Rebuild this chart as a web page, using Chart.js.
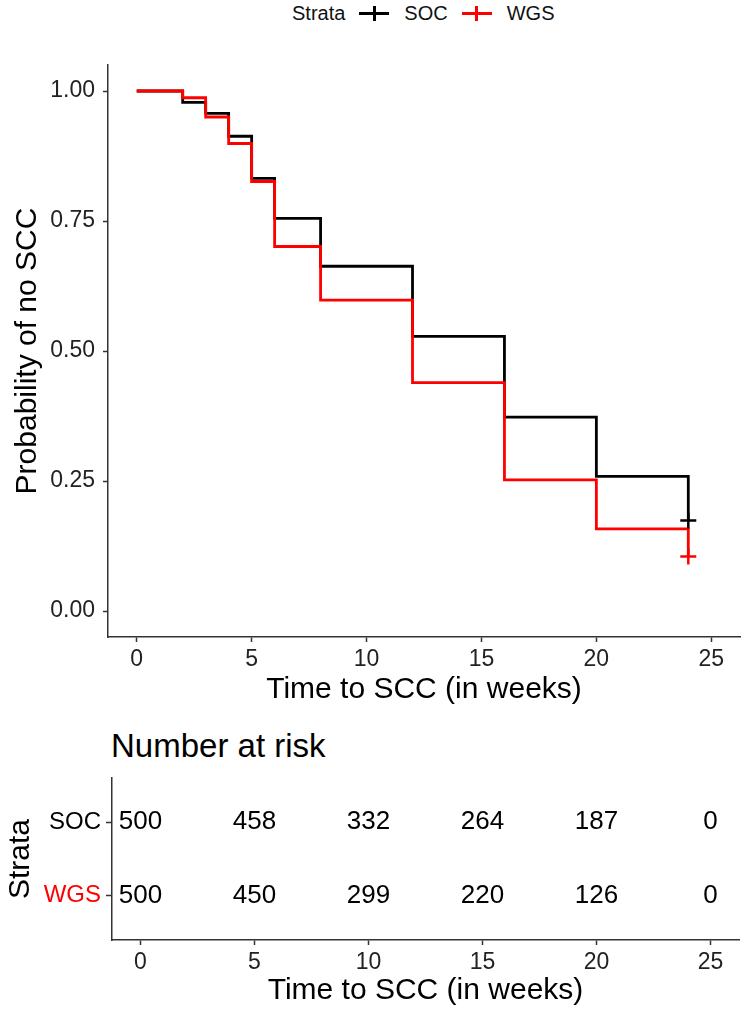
<!DOCTYPE html>
<html>

<head>
  <title>Probabilidade de nao SCC</title>
  <script src="https://cdn.jsdelivr.net/npm/chart.js"></script>
  <style>
    body {
      margin: 0;
      background-color: #ffffff;
      font-family: "Liberation Sans", Arial, sans-serif;
    }

    #legenda {
      position: absolute;
      top: 0;
      left: 0;
      width: 744px;
      height: 27px;
      display: flex;
      justify-content: flex-start;
      align-items: center;
      font-size: 20px;
      color: #111;
      padding-left: 292px;
      box-sizing: border-box;
    }

    .marca {
      position: relative;
      display: inline-block;
      width: 30px;
      height: 15px;
      margin: 0 15px 0 14px;
    }

    .marca .h {
      position: absolute;
      left: 0;
      top: 6px;
      width: 30px;
      height: 3px;
    }

    .marca .v {
      position: absolute;
      left: 13.5px;
      top: 0;
      width: 3px;
      height: 15px;
    }

    #box1 {
      position: absolute;
      top: 0;
      left: 0;
      width: 744px;
      height: 708px;
    }

    #box2 {
      position: absolute;
      top: 705px;
      left: 0;
      width: 744px;
      height: 307px;
    }

    #tituloRisco {
      position: absolute;
      top: 729px;
      left: 111px;
      font-size: 33px;
      line-height: 33px;
      color: #000;
    }
  </style>
</head>

<body>
  <div id="legenda"></div>
  <div id="box1"><canvas id="chartKM"></canvas></div>
  <div id="tituloRisco">Number at risk</div>
  <div id="box2"><canvas id="chartRisco"></canvas></div>

  <script>
    // dados
    var grupos = ['SOC', 'WGS'];
    var cores = ['#000000', '#ff0000'];

    var tempos = [0, 2, 3, 4, 5, 6, 8, 12, 16, 20, 24];
    var survSOC = [1.00, 0.978, 0.957, 0.913, 0.832, 0.755, 0.663, 0.528, 0.373, 0.259, 0.174];
    var survWGS = [1.00, 0.987, 0.950, 0.899, 0.826, 0.701, 0.598, 0.439, 0.252, 0.158, 0.105];

    var censuraTempo = [24, 24];
    var censuraSurv = [0.174, 0.105];

    var ticksX = [0, 5, 10, 15, 20, 25];
    var ticksY = [0, 0.25, 0.5, 0.75, 1];

    var tempoRisco = [0, 5, 10, 15, 20, 25];
    var riscoSOC = [500, 458, 332, 264, 187, 0];
    var riscoWGS = [500, 450, 299, 220, 126, 0];

    var fonte = '"Liberation Sans", Arial, sans-serif';
    var corEixo = '#333333';

    // legenda
    var legenda = document.getElementById('legenda');
    var html = '<span>Strata</span>';
    for (var i = 0; i < grupos.length; i++) {
      html += '<span class="marca"><span class="h" style="background:' + cores[i] + '"></span>' +
        '<span class="v" style="background:' + cores[i] + '"></span></span>' +
        '<span>' + grupos[i] + '</span>';
    }
    legenda.innerHTML = html;

    function pontos(xs, ys) {
      var out = [];
      for (var i = 0; i < xs.length; i++) out.push({ x: xs[i], y: ys[i] });
      return out;
    }

    function eixoX(titulo, altura) {
      return {
        type: 'linear',
        min: -1.25,
        max: 26.25,
        afterBuildTicks: function (scale) {
          scale.ticks = ticksX.map(function (v) { return { value: v }; });
        },
        afterFit: function (scale) { scale.height = altura; },
        ticks: {
          color: '#222',
          padding: 4,
          font: { family: fonte, size: 23 }
        },
        grid: {
          drawOnChartArea: false,
          drawTicks: true,
          tickLength: 5,
          tickWidth: 1.5,
          tickColor: corEixo
        },
        border: { display: true, color: corEixo, width: 1.5 },
        title: {
          display: true,
          text: titulo,
          color: '#000',
          font: { family: fonte, size: 30 },
          padding: { top: 0, bottom: 0 }
        }
      };
    }

    var datasetsKM = [
      {
        label: 'SOC',
        data: pontos(tempos, survSOC),
        borderColor: cores[0],
        borderWidth: 2.8,
        stepped: 'before',
        pointRadius: 0,
        fill: false,
        order: 3
      },
      {
        label: 'WGS',
        data: pontos(tempos, survWGS),
        borderColor: cores[1],
        borderWidth: 2.8,
        stepped: 'before',
        pointRadius: 0,
        fill: false,
        order: 2
      },
      {
        type: 'scatter',
        label: 'SOC censura',
        data: [{ x: censuraTempo[0], y: censuraSurv[0] }],
        pointStyle: 'cross',
        pointRadius: 8,
        borderWidth: 2.5,
        borderColor: cores[0],
        order: 1
      },
      {
        type: 'scatter',
        label: 'WGS censura',
        data: [{ x: censuraTempo[1], y: censuraSurv[1] }],
        pointStyle: 'cross',
        pointRadius: 8,
        borderWidth: 2.5,
        borderColor: cores[1],
        order: 0
      }
    ];

    new Chart(document.getElementById('chartKM'), {
      type: 'line',
      data: { datasets: datasetsKM },
      options: {
        responsive: true,
        maintainAspectRatio: false,
        animation: false,
        layout: { autoPadding: false, padding: { top: 65, right: 4, left: 0, bottom: 0 } },
        plugins: { legend: { display: false }, tooltip: { enabled: false } },
        scales: {
          x: eixoX('Time to SCC (in weeks)', 71),
          y: {
            type: 'linear',
            min: -0.05,
            max: 1.05,
            afterBuildTicks: function (scale) {
              scale.ticks = ticksY.map(function (v) { return { value: v }; });
            },
            afterFit: function (scale) { scale.width = 108; },
            ticks: {
              color: '#222',
              padding: 8,
              font: { family: fonte, size: 23 },
              callback: function (v) { return v.toFixed(2); }
            },
            grid: {
              drawOnChartArea: false,
              drawTicks: true,
              tickLength: 5,
              tickWidth: 1.5,
              tickColor: corEixo
            },
            border: { display: true, color: corEixo, width: 1.5 },
            title: {
              display: true,
              text: 'Probability of no SCC',
              color: '#000',
              font: { family: fonte, size: 30 },
              padding: { top: 10, bottom: 0 }
            }
          }
        }
      }
    });

    // tabela de risco
    var dadosRisco = [];
    [riscoSOC, riscoWGS].forEach(function (serie, g) {
      dadosRisco.push({
        label: grupos[g],
        data: tempoRisco.map(function (t, k) { return { x: t, y: g + 1, n: serie[k] }; }),
        pointRadius: 0,
        showLine: false
      });
    });

    var textoRisco = {
      id: 'textoRisco',
      afterDatasetsDraw: function (chart) {
        var ctx = chart.ctx;
        ctx.save();
        ctx.font = '26px ' + fonte;
        ctx.fillStyle = '#000';
        ctx.textAlign = 'center';
        ctx.textBaseline = 'middle';
        chart.data.datasets.forEach(function (ds, d) {
          var meta = chart.getDatasetMeta(d);
          meta.data.forEach(function (el, k) {
            ctx.fillText(String(ds.data[k].n), el.x, el.y);
          });
        });
        ctx.restore();
      }
    };

    new Chart(document.getElementById('chartRisco'), {
      type: 'scatter',
      data: { datasets: dadosRisco },
      plugins: [textoRisco],
      options: {
        responsive: true,
        maintainAspectRatio: false,
        animation: false,
        clip: false,
        layout: { autoPadding: false, padding: { top: 73, right: 5, left: 0, bottom: 3 } },
        plugins: { legend: { display: false }, tooltip: { enabled: false } },
        scales: {
          x: eixoX('Time to SCC (in weeks)', 69),
          y: {
            type: 'linear',
            reverse: true,
            min: 0.4,
            max: 2.6,
            afterBuildTicks: function (scale) {
              scale.ticks = grupos.map(function (g, i) { return { value: i + 1 }; });
            },
            afterFit: function (scale) { scale.width = 112; },
            ticks: {
              padding: 5,
              font: { family: fonte, size: 24 },
              color: function (c) { return cores[c.tick.value - 1]; },
              callback: function (v) { return grupos[v - 1]; }
            },
            grid: {
              drawOnChartArea: false,
              drawTicks: true,
              tickLength: 6,
              tickWidth: 1.5,
              tickColor: corEixo
            },
            border: { display: true, color: corEixo, width: 1.5 },
            title: {
              display: true,
              text: 'Strata',
              color: '#000',
              font: { family: fonte, size: 30 },
              padding: { top: 3, bottom: 0 }
            }
          }
        }
      }
    });
  </script>
</body>

</html>
